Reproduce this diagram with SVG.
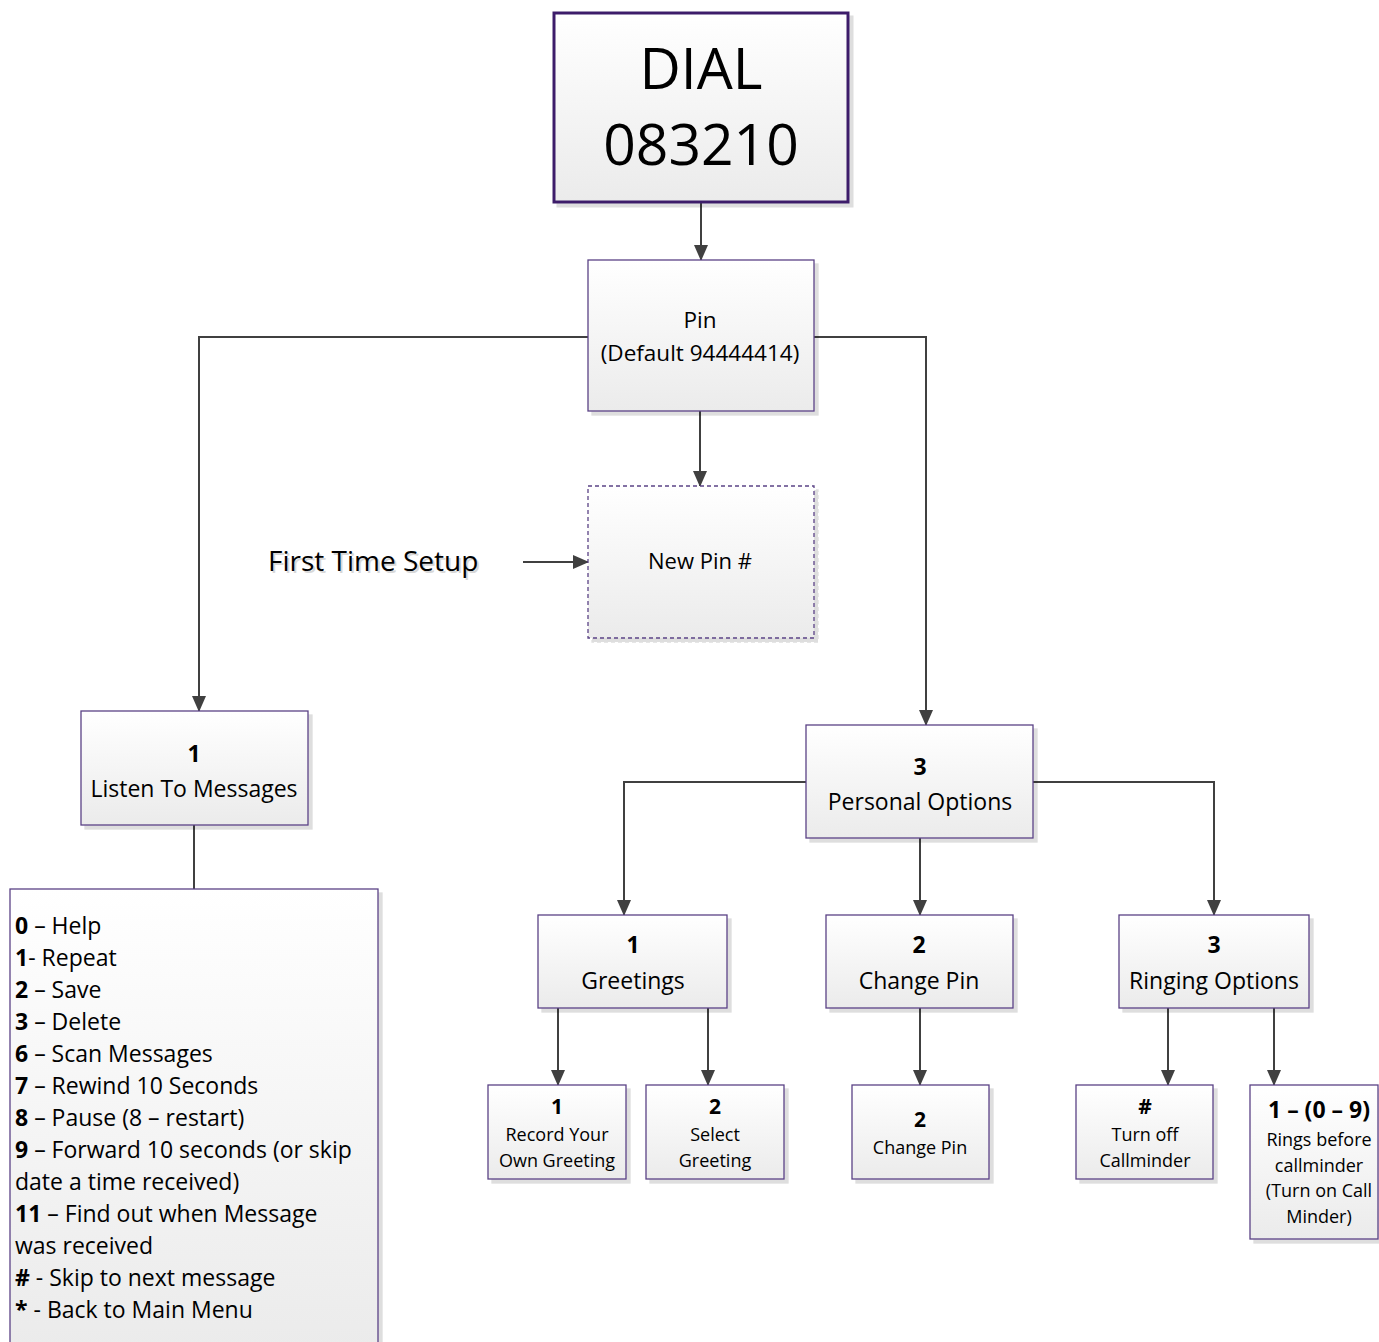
<svg xmlns="http://www.w3.org/2000/svg" width="1379" height="1342" viewBox="0 0 1379 1342">
<defs>
<linearGradient id="g" x1="0" y1="0" x2="0" y2="1">
<stop offset="0" stop-color="#ffffff"/>
<stop offset="1" stop-color="#ebebeb"/>
</linearGradient>
<marker id="arr" markerWidth="16" markerHeight="16" refX="15" refY="8" orient="auto" markerUnits="userSpaceOnUse">
<path d="M0,1 L16,8 L0,15 Z" fill="#404040"/>
</marker>
<filter id="sh" x="-10%" y="-10%" width="130%" height="130%">
<feOffset dx="4" dy="4" in="SourceAlpha" result="o"/>
<feColorMatrix in="o" type="matrix" values="0 0 0 0 0  0 0 0 0 0  0 0 0 0 0  0 0 0 0.13 0" result="c"/>
<feMerge><feMergeNode in="c"/><feMergeNode in="SourceGraphic"/></feMerge>
</filter>
</defs>
<style>
text{font-family:"Open Sans",Lato,"Liberation Sans",sans-serif;fill:#000}
.box{fill:url(#g);stroke:#5b4386;stroke-width:1.3;filter:url(#sh)}
.c{text-anchor:middle}
.b{font-weight:bold}
.ln{fill:none;stroke:#404040;stroke-width:2}
.m{font-size:23px}
.s{font-size:18px}
</style>
<g id="connectors">
<path class="ln" d="M701,202 V260" marker-end="url(#arr)"/>
<path class="ln" d="M588,337 H199 V711" marker-end="url(#arr)"/>
<path class="ln" d="M814,337 H926 V725" marker-end="url(#arr)"/>
<path class="ln" d="M700,411 V486" marker-end="url(#arr)"/>
<path class="ln" d="M523,562 H588" marker-end="url(#arr)"/>
<path class="ln" d="M194,825 V889"/>
<path class="ln" d="M806,782 H624 V915" marker-end="url(#arr)"/>
<path class="ln" d="M920,838 V915" marker-end="url(#arr)"/>
<path class="ln" d="M1033,782 H1214 V915" marker-end="url(#arr)"/>
<path class="ln" d="M558,1008 V1085" marker-end="url(#arr)"/>
<path class="ln" d="M708,1008 V1085" marker-end="url(#arr)"/>
<path class="ln" d="M920,1008 V1085" marker-end="url(#arr)"/>
<path class="ln" d="M1168,1008 V1085" marker-end="url(#arr)"/>
<path class="ln" d="M1274,1008 V1085" marker-end="url(#arr)"/>
</g>
<g id="dial">
<rect class="box" x="554" y="13" width="294" height="189" style="stroke:#3c1f6a;stroke-width:3"/>
<text class="c" x="701" y="89" font-size="57">DIAL</text>
<text class="c" x="701" y="165" font-size="57">083210</text>
</g>
<g id="pin">
<rect class="box" x="588" y="260" width="226" height="151"/>
<text class="c" x="700" y="328" font-size="22.5">Pin</text>
<text class="c" x="700" y="361" font-size="22.5">(Default 94444414)</text>
</g>
<g id="newpin">
<rect class="box" x="588" y="486" width="226" height="152" style="stroke-dasharray:4 3"/>
<text class="c" x="700" y="569" font-size="22">New Pin #</text>
</g>
<g id="firsttime">
<text x="270" y="573" font-size="28" style="fill:#d8d8d8">First Time Setup</text>
<text x="268" y="571" font-size="28">First Time Setup</text>
</g>
<g id="listen">
<rect class="box" x="81" y="711" width="227" height="114"/>
<text class="c b m" x="194" y="762">1</text>
<text class="c m" x="194" y="797">Listen To Messages</text>
</g>
<g id="list">
<rect class="box" x="10" y="889" width="368" height="460"/>
<text class="m" x="15" y="934"><tspan class="b">0</tspan> – Help</text>
<text class="m" x="15" y="966"><tspan class="b">1</tspan>- Repeat</text>
<text class="m" x="15" y="998"><tspan class="b">2</tspan> – Save</text>
<text class="m" x="15" y="1030"><tspan class="b">3</tspan> – Delete</text>
<text class="m" x="15" y="1062"><tspan class="b">6</tspan> – Scan Messages</text>
<text class="m" x="15" y="1094"><tspan class="b">7</tspan> – Rewind 10 Seconds</text>
<text class="m" x="15" y="1126"><tspan class="b">8</tspan> – Pause (8 – restart)</text>
<text class="m" x="15" y="1158"><tspan class="b">9</tspan> – Forward 10 seconds (or skip</text>
<text class="m" x="15" y="1190">date a time received)</text>
<text class="m" x="15" y="1222"><tspan class="b">11</tspan> – Find out when Message</text>
<text class="m" x="15" y="1254">was received</text>
<text class="m" x="15" y="1286"><tspan class="b">#</tspan> - Skip to next message</text>
<text class="m" x="15" y="1318"><tspan class="b">*</tspan> - Back to Main Menu</text>
</g>
<g id="personal">
<rect class="box" x="806" y="725" width="227" height="113"/>
<text class="c b m" x="920" y="775">3</text>
<text class="c m" x="920" y="810">Personal Options</text>
</g>
<g id="greetings">
<rect class="box" x="538" y="915" width="189" height="93"/>
<text class="c b m" x="633" y="953">1</text>
<text class="c m" x="633" y="989">Greetings</text>
</g>
<g id="changepin">
<rect class="box" x="826" y="915" width="187" height="93"/>
<text class="c b m" x="919" y="953">2</text>
<text class="c m" x="919" y="989">Change Pin</text>
</g>
<g id="ringing">
<rect class="box" x="1119" y="915" width="190" height="93"/>
<text class="c b m" x="1214" y="953">3</text>
<text class="c m" x="1214" y="989">Ringing Options</text>
</g>
<g id="record">
<rect class="box" x="488" y="1085" width="138" height="94"/>
<text class="c b" x="557" y="1114" font-size="21">1</text>
<text class="c s" x="557" y="1141">Record Your</text>
<text class="c s" x="557" y="1167">Own Greeting</text>
</g>
<g id="select">
<rect class="box" x="646" y="1085" width="138" height="94"/>
<text class="c b" x="715" y="1114" font-size="21">2</text>
<text class="c s" x="715" y="1141">Select</text>
<text class="c s" x="715" y="1167">Greeting</text>
</g>
<g id="changepin2">
<rect class="box" x="852" y="1085" width="137" height="94"/>
<text class="c b" x="920" y="1127" font-size="21">2</text>
<text class="c s" x="920" y="1154">Change Pin</text>
</g>
<g id="turnoff">
<rect class="box" x="1076" y="1085" width="137" height="94"/>
<text class="c b" x="1145" y="1114" font-size="21">#</text>
<text class="c s" x="1145" y="1141">Turn off</text>
<text class="c s" x="1145" y="1167">Callminder</text>
</g>
<g id="rings">
<rect class="box" x="1250" y="1085" width="128" height="154"/>
<text class="c b" x="1319" y="1118" font-size="23">1 – (0 – 9)</text>
<text class="c s" x="1319" y="1146">Rings before</text>
<text class="c s" x="1319" y="1172">callminder</text>
<text class="c s" x="1319" y="1197">(Turn on Call</text>
<text class="c s" x="1319" y="1223">Minder)</text>
</g>
</svg>
